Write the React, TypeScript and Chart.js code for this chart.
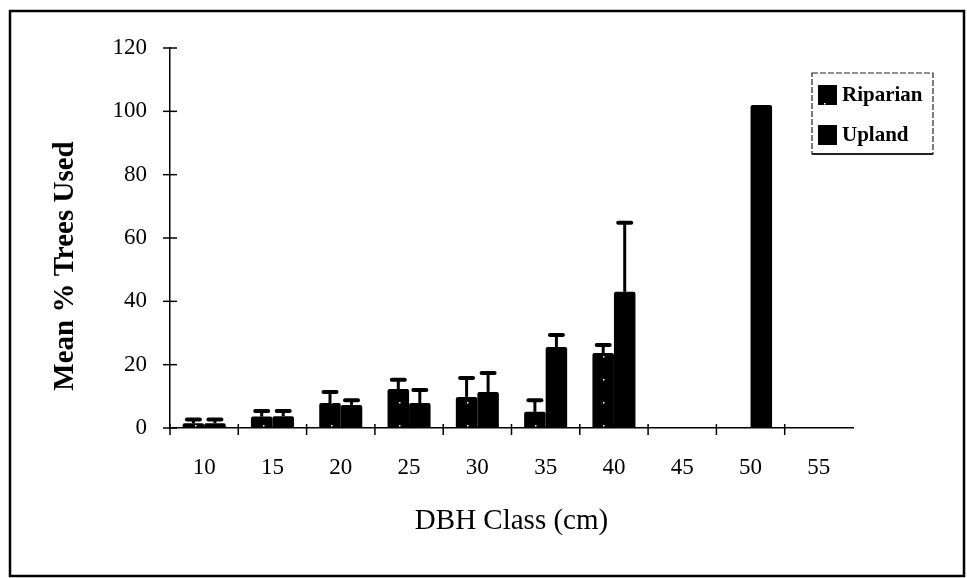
import { useEffect, useRef } from "react";
import { Chart, registerables } from "chart.js";
Chart.register(...registerables);

const categories = ["10", "15", "20", "25", "30", "35", "40", "45", "50", "55"];
const seriesLabels = ["Riparian", "Upland"];
const riparianMeans = [1.5, 3.6, 7.9, 12.3, 9.8, 5.1, 23.7, 0, 0, 0];
const riparianErrors = [1.2, 1.8, 3.5, 2.9, 6.0, 3.7, 2.5, 0, 0, 0];
const uplandMeans = [1.5, 3.7, 7.3, 7.9, 11.4, 25.6, 43, 0, 102, 0];
const uplandErrors = [1.2, 1.7, 1.5, 4.1, 6.0, 3.8, 21.8, 0, 0, 0];
const yMin = 0;
const yMax = 120;
const yStep = 20;
const xTitle = "DBH Class (cm)";
const yTitle = "Mean % Trees Used";

const FONT = "'Liberation Serif', 'DejaVu Serif', serif";

function makeStipple(): CanvasPattern | string {
  const c = document.createElement("canvas");
  c.width = 17;
  c.height = 23;
  const g = c.getContext("2d");
  if (!g) return "#000";
  g.fillStyle = "#000";
  g.fillRect(0, 0, 17, 23);
  g.fillStyle = "#fff";
  g.fillRect(8, 11, 1.5, 1.5);
  const p = g.createPattern(c, "repeat");
  return p || "#000";
}

const errorBarPlugin = {
  id: "errorBars",
  afterDatasetsDraw(chart: any) {
    const ctx = chart.ctx;
    const ys = chart.scales.y;
    chart.data.datasets.forEach((ds: any, di: number) => {
      const errs: number[] = ds.errors;
      if (!errs) return;
      const meta = chart.getDatasetMeta(di);
      meta.data.forEach((el: any, i: number) => {
        const e = errs[i];
        if (!e) return;
        const v = ds.data[i];
        const yTop = ys.getPixelForValue(v + e);
        const yBar = ys.getPixelForValue(v);
        ctx.save();
        ctx.strokeStyle = "#000";
        ctx.lineWidth = 3;
        ctx.beginPath();
        ctx.moveTo(el.x, yBar);
        ctx.lineTo(el.x, yTop);
        ctx.stroke();
        ctx.lineWidth = 4;
        ctx.lineCap = "round";
        ctx.beginPath();
        ctx.moveTo(el.x - 6.5, yTop);
        ctx.lineTo(el.x + 6.5, yTop);
        ctx.stroke();
        ctx.restore();
      });
    });
  },
};

const decorPlugin = {
  id: "decor",
  afterDraw(chart: any) {
    const ctx = chart.ctx;
    const { chartArea } = chart;
    const xs = chart.scales.x;
    const ys = chart.scales.y;
    ctx.save();
    // outer frame
    ctx.strokeStyle = "#000";
    ctx.lineWidth = 2.5;
    ctx.strokeRect(10, 11, 954, 565);

    // y ticks crossing axis
    ctx.lineWidth = 1.5;
    ys.ticks.forEach((t: any) => {
      const py = ys.getPixelForValue(t.value);
      ctx.beginPath();
      ctx.moveTo(chartArea.left - 7, py);
      ctx.lineTo(chartArea.left + 7, py);
      ctx.stroke();
    });
    // x ticks at category boundaries
    const n = categories.length;
    for (let i = 0; i < n; i++) {
      const px = i === 0 ? chartArea.left : (xs.getPixelForValue(i - 1) + xs.getPixelForValue(i)) / 2;
      ctx.beginPath();
      ctx.moveTo(px, chartArea.bottom - 4);
      ctx.lineTo(px, chartArea.bottom + 7);
      ctx.stroke();
    }

    // titles
    ctx.fillStyle = "#000";
    ctx.textAlign = "center";
    ctx.textBaseline = "middle";
    ctx.font = `29px ${FONT}`;
    ctx.fillText(xTitle, (chartArea.left + chartArea.right) / 2, 521);
    ctx.save();
    ctx.translate(66, 266);
    ctx.rotate(-Math.PI / 2);
    ctx.font = `bold 29px ${FONT}`;
    ctx.fillText(yTitle, 0, 0);
    ctx.restore();

    // legend
    const x0 = chartArea.right - 41;
    const y0 = chartArea.top + 25;
    const w = 121;
    const h = 81;
    ctx.lineWidth = 1.2;
    ctx.strokeStyle = "#222";
    ctx.setLineDash([6, 2]);
    ctx.strokeRect(x0, y0, w, h);
    ctx.setLineDash([]);
    ctx.lineWidth = 2;
    ctx.beginPath();
    ctx.moveTo(x0, y0 + h);
    ctx.lineTo(x0 + w, y0 + h);
    ctx.stroke();
    ctx.textAlign = "left";
    ctx.font = `bold 21px ${FONT}`;
    chart.data.datasets.forEach((ds: any, i: number) => {
      const cy = y0 + 22 + i * 40;
      ctx.fillStyle = ds.backgroundColor;
      ctx.fillRect(x0 + 6, cy - 10, 19, 20);
      ctx.fillStyle = "#000";
      ctx.fillText(ds.label, x0 + 30, cy + 1);
    });
    ctx.restore();
  },
};

export default function App() {
  const ref = useRef<HTMLCanvasElement | null>(null);
  useEffect(() => {
    if (!ref.current) return;
    const stipple = makeStipple();
    const chart = new Chart(ref.current, {
      type: "bar",
      data: {
        labels: categories,
        datasets: [
          {
            label: seriesLabels[0],
            data: riparianMeans,
            errors: riparianErrors,
            backgroundColor: stipple,
            borderWidth: 0,
            borderRadius: 2,
            categoryPercentage: 0.63,
            barPercentage: 1.0,
          } as any,
          {
            label: seriesLabels[1],
            data: uplandMeans,
            errors: uplandErrors,
            backgroundColor: "#000",
            borderWidth: 0,
            borderRadius: 2,
            categoryPercentage: 0.63,
            barPercentage: 1.0,
          } as any,
        ],
      },
      options: {
        responsive: false,
        animation: false,
        events: [],
        layout: { padding: { top: 48, right: 114, left: 0, bottom: 0 } },
        plugins: {
          legend: { display: false },
          tooltip: { enabled: false },
        },
        scales: {
          x: {
            grid: { display: false },
            border: { display: true, color: "#000", width: 1.5 },
            ticks: {
              color: "#000",
              padding: 18,
              font: { family: FONT, size: 23 },
              maxRotation: 0,
              autoSkip: false,
            },
            afterFit: (s: any) => {
              s.height = 150;
            },
          },
          y: {
            min: yMin,
            max: yMax,
            grid: { display: false },
            border: { display: true, color: "#000", width: 1.5 },
            ticks: {
              stepSize: yStep,
              color: "#000",
              padding: 15,
              font: { family: FONT, size: 23 },
            },
            afterFit: (s: any) => {
              s.width = 170;
            },
          },
        },
      },
      plugins: [errorBarPlugin, decorPlugin],
    });
    return () => chart.destroy();
  }, []);
  return (
    <div style={{ position: "fixed", left: 0, top: 0, width: 967, height: 578, background: "#fff" }}>
      <canvas ref={ref} width={967} height={578} />
    </div>
  );
}
